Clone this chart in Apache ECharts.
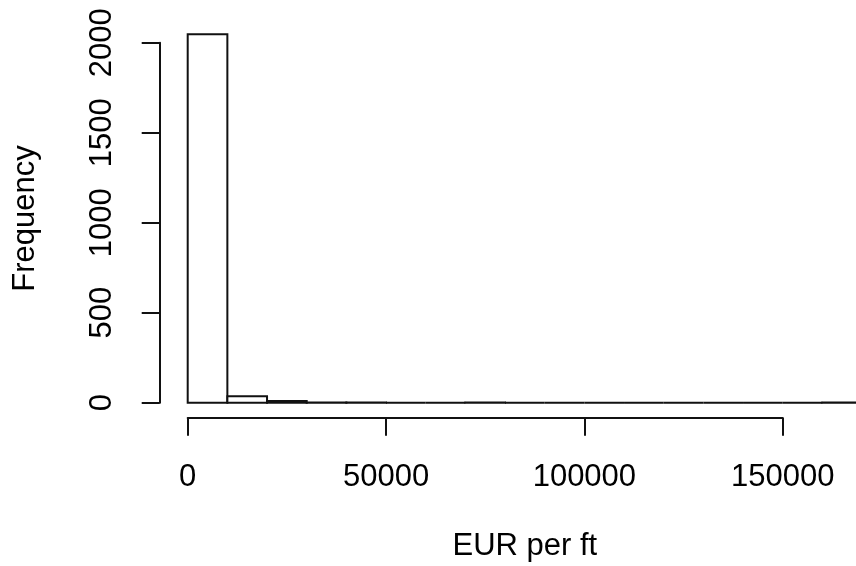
<!DOCTYPE html>
<html>
<head>
<meta charset="utf-8">
<script src="https://cdn.jsdelivr.net/npm/echarts@6/dist/echarts.min.js"></script>
<style>
  html, body { margin: 0; padding: 0; background: #ffffff; }
  #chart { width: 856px; height: 566px; }
</style>
</head>
<body>
<div id="chart"></div>
<script>
// Histogram of EUR per ft: bin lower edges and the count in each bin
const binWidth = 10000;
const binStarts = [0, 10000, 20000, 30000, 40000, 50000, 60000, 70000, 80000,
                   90000, 100000, 110000, 120000, 130000, 140000, 150000, 160000];
const counts = [2047, 36, 10, 1, 1, 0, 0, 1, 0, 0, 0, 0, 0, 0, 0, 0, 1];

// Axis tick values
const xTicks = [0, 50000, 100000, 150000];
const yTicks = [0, 500, 1000, 1500, 2000];

const FONT = '"Liberation Sans", Arial, sans-serif';
const INK = '#000000';
const LINE = '#111111';

// Pixel frame: where x = 0 and y = 0 sit, and the scale per unit
const x0px = 187.7, y0px = 402.7;
const pxPerX = 595 / (xTicks[xTicks.length - 1] - xTicks[0]);
const pxPerY = 360 / (yTicks[yTicks.length - 1] - yTicks[0]);

// Plot region spans the data range padded by 4% on each side
const dataXMax = binStarts[binStarts.length - 1] + binWidth;
const dataYMax = Math.max(...counts);
const padX = 0.04 * dataXMax, padY = 0.04 * dataYMax;
const plotXMin = -padX, plotXMax = dataXMax + padX;
const plotYMin = -padY, plotYMax = dataYMax + padY;

const plotLeft = x0px + plotXMin * pxPerX;
const plotWidth = (plotXMax - plotXMin) * pxPerX;
const plotTop = y0px - plotYMax * pxPerY;
const plotHeight = (plotYMax - plotYMin) * pxPerY;

const barData = binStarts.map((s, i) => [s, s + binWidth, counts[i]]);

const plainNumber = v => String(v);

const chart = echarts.init(document.getElementById('chart'), null, { renderer: 'canvas' });

chart.setOption({
  backgroundColor: '#ffffff',
  animation: false,
  grid: [
    { // full plot region: holds the bars and the axis titles
      left: plotLeft, top: plotTop, width: plotWidth, height: plotHeight,
      containLabel: false, outerBoundsMode: 'none'
    },
    { // tick range frame: holds the visible axes
      left: x0px, top: y0px - yTicks[yTicks.length - 1] * pxPerY,
      width: (xTicks[xTicks.length - 1] - xTicks[0]) * pxPerX,
      height: (yTicks[yTicks.length - 1] - yTicks[0]) * pxPerY,
      containLabel: false, outerBoundsMode: 'none'
    }
  ],
  xAxis: [
    {
      gridIndex: 0, type: 'value', min: plotXMin, max: plotXMax,
      axisLine: { show: false, onZero: false }, axisTick: { show: false },
      axisLabel: { show: false }, splitLine: { show: false },
      name: 'EUR per ft', nameLocation: 'middle', nameGap: 114,
      nameTextStyle: { fontFamily: FONT, fontSize: 31, color: INK }
    },
    {
      gridIndex: 1, type: 'value', min: xTicks[0], max: xTicks[xTicks.length - 1],
      interval: xTicks[1] - xTicks[0], position: 'bottom', offset: 15,
      axisLine: { show: true, onZero: false, lineStyle: { color: LINE, width: 2 } },
      axisTick: { show: true, inside: false, length: 18, lineStyle: { color: LINE, width: 2 } },
      axisLabel: {
        show: true, margin: 44, fontFamily: FONT, fontSize: 31, color: INK,
        formatter: plainNumber,
        hideOverlap: false, showMinLabel: true, showMaxLabel: true
      },
      splitLine: { show: false }
    }
  ],
  yAxis: [
    {
      gridIndex: 0, type: 'value', min: plotYMin, max: plotYMax,
      axisLine: { show: false, onZero: false }, axisTick: { show: false },
      axisLabel: { show: false }, splitLine: { show: false },
      name: 'Frequency', nameLocation: 'middle', nameRotate: 90, nameGap: 120,
      nameTextStyle: { fontFamily: FONT, fontSize: 31, color: INK }
    },
    {
      gridIndex: 1, type: 'value', min: yTicks[0], max: yTicks[yTicks.length - 1],
      interval: yTicks[1] - yTicks[0], position: 'left', offset: 28,
      axisLine: { show: true, onZero: false, lineStyle: { color: LINE, width: 2 } },
      axisTick: { show: true, inside: false, length: 18, lineStyle: { color: LINE, width: 2 } },
      axisLabel: {
        show: true, rotate: 90, margin: 42, fontFamily: FONT, fontSize: 31, color: INK,
        formatter: plainNumber,
        hideOverlap: false, showMinLabel: true, showMaxLabel: true
      },
      splitLine: { show: false }
    }
  ],
  series: [
    {
      type: 'custom',
      xAxisIndex: 0, yAxisIndex: 0,
      data: barData,
      encode: { x: [0, 1], y: 2 },
      clip: false,
      renderItem: function (params, api) {
        const topLeft = api.coord([api.value(0), api.value(2)]);
        const bottomRight = api.coord([api.value(1), 0]);
        return {
          type: 'rect',
          shape: {
            x: topLeft[0], y: topLeft[1],
            width: bottomRight[0] - topLeft[0],
            height: bottomRight[1] - topLeft[1]
          },
          style: { fill: '#ffffff', stroke: LINE, lineWidth: 2 }
        };
      }
    }
  ]
});
</script>
</body>
</html>
